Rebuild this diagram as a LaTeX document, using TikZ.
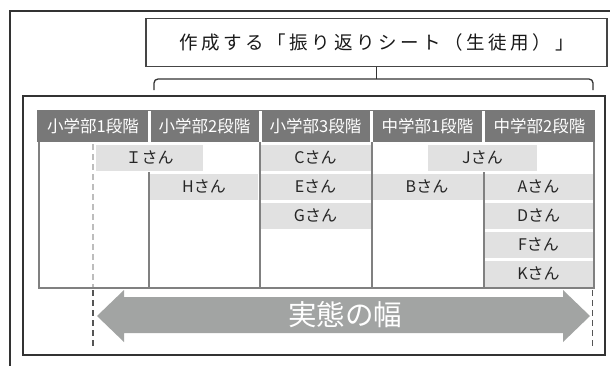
\documentclass[tikz,border=0pt]{standalone}
\usepackage{fontspec}
\setmainfont{Noto Sans CJK JP}
\definecolor{framec}{HTML}{333333}
\definecolor{titlec}{HTML}{454545}
\definecolor{headc}{HTML}{787878}
\definecolor{linec}{HTML}{808080}
\definecolor{barc}{HTML}{E1E1E1}
\definecolor{arrowc}{HTML}{A2A4A3}
\definecolor{dashlt}{HTML}{BDBDBD}
\definecolor{dashdk}{HTML}{555555}
\begin{document}
\begin{tikzpicture}[x=1pt,y=-1pt,
  headtxt/.style={text=white,font=\fontsize{16.5}{18}\selectfont,inner sep=0pt},
  bar/.style={fill=barc,minimum height=25.5pt,inner sep=0pt,font=\fontsize{16}{18}\selectfont,text=black!85},
  tline/.style={draw=linec,line width=2pt},
  dashln/.style={line width=1.3pt,dash pattern=on 6pt off 4pt}]
\useasboundingbox (0,0) rectangle (610,365);
\fill[white] (0,0) rectangle (610,365);
% outer frame (cropped)
\draw[framec,line width=1.5pt] (615,11) -- (10,11) -- (10,370);
% title
\def\ls{\kern3.6pt}
\node[draw=titlec,line width=1.2pt,minimum width=461pt,minimum height=48.5pt,inner sep=0pt,
  font=\fontsize{18.5}{20}\selectfont,text=black!90] (title) at (376.5,42.5)
  {作\ls 成\ls す\ls る\ls 「\ls 振\ls り\ls 返\ls り\ls シ\ls ー\ls ト\ls （\ls 生\ls 徒\ls 用\ls ）\ls 」};
% brace
\coordinate (bl) at (154,90);
\coordinate (br) at (593,90);
\coordinate (bc) at (title.south |- 0,79);
\draw[framec,line width=1.3pt,rounded corners=4pt] (bl) -- (154,79) -- (593,79) -- (br);
\draw[framec,line width=1.3pt] (title.south) -- (bc);
% inner frame
\draw[framec,line width=1.5pt] (23,96) rectangle (605,355);
% header
\fill[headc] (37,110) rectangle (595,142);
\foreach \x in {149.2,260.2,371.5,483.5}
  \fill[white] (\x-1.3,111) rectangle (\x+1.3,142);
\node[headtxt] (h1) at (93,126) {小学部1段階};
\node[headtxt] (h2) at (204.5,126) {小学部2段階};
\node[headtxt] (h3) at (315.5,126) {小学部3段階};
\node[headtxt] (h4) at (427.5,126) {中学部1段階};
\node[headtxt] (h5) at (539.5,126) {中学部2段階};
% dashed line inside table
\draw[dashlt,dashln] (93,144) -- (93,288);
% bars
\node[bar,minimum width=107pt] (I) at (149.5,157.75) {Ｉさん};
\node[bar,minimum width=108pt] (H) at (204,186.75) {Hさん};
\node[bar,minimum width=110pt] (C) at (315.5,157.75) {Cさん};
\node[bar,minimum width=110pt] (E) at (315.5,186.75) {Eさん};
\node[bar,minimum width=110pt] (G) at (315.5,215.75) {Gさん};
\node[bar,minimum width=109pt] (J) at (482.5,157.75) {Jさん};
\node[bar,minimum width=111pt] (B) at (427,186.75) {Bさん};
\node[bar,minimum width=109pt] (A) at (538.5,186.75) {Aさん};
\node[bar,minimum width=109pt] (D) at (538.5,215.75) {Dさん};
\node[bar,minimum width=109pt] (F) at (538.5,244.75) {Fさん};
\node[bar,minimum width=109pt] (K) at (538.5,273.75) {Kさん};
% table lines
\draw[tline] (38.5,142) -- (38.5,288) -- (594,288) -- (594,142);
\draw[tline] (149,172) -- (149,288);
\draw[tline] (260,142) -- (260,288);
\draw[tline] (371.5,142) -- (371.5,288);
\draw[tline] (483.5,172) -- (483.5,288);
% dashed lines below table
\draw[dashdk,dashln] (93,290) -- (93,346);
\draw[dashdk,dashln] (592.5,290) -- (592.5,346);
% arrow
\fill[arrowc] (97,316) -- (124,290) -- (124,297) -- (563,297) -- (563,290) -- (590,316)
  -- (563,342) -- (563,333) -- (124,333) -- (124,342) -- cycle;
\node[text=white,font=\fontsize{28.5}{30}\selectfont,inner sep=0pt] (w) at (345,315) {実態の幅};
\end{tikzpicture}
\end{document}
